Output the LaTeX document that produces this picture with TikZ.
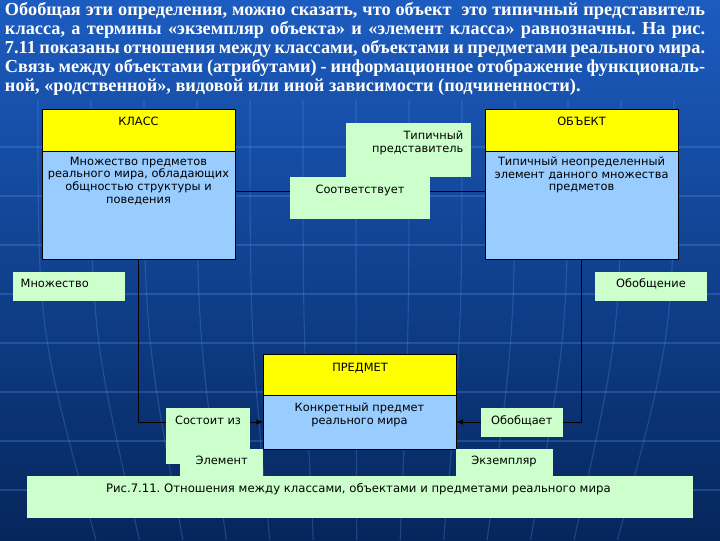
\documentclass[tikz,border=0pt]{standalone}
\usepackage{fontspec}
\setmainfont{Liberation Serif}
\newfontfamily\dgfont{DejaVu Sans}
\usetikzlibrary{arrows.meta,calc}
\frenchspacing
\definecolor{bgA}{RGB}{28,92,192}
\definecolor{bgB}{RGB}{10,72,158}
\definecolor{bgC}{RGB}{5,38,92}
\definecolor{lyel}{RGB}{255,255,0}
\definecolor{lblu}{RGB}{153,204,255}
\definecolor{lgrn}{RGB}{204,255,204}
\definecolor{faint}{RGB}{90,150,235}
\newcommand\bx[6]{\node[#6,minimum width={(#4-#2)*0.025cm},minimum height={(#5-#3)*0.025cm}] (#1) at ({(#2+#4)/2},{(#3+#5)/2}) {};}
\begin{document}
\begin{tikzpicture}[x=0.025cm,y=-0.025cm,
  ttl/.style={anchor=base west,inner sep=0,outer sep=0,text=white,font=\bfseries\fontsize{13}{15}\selectfont},
  shp/.style={inner sep=0,outer sep=0,draw=none},
  yel/.style={shp,fill=lyel},
  blu/.style={shp,fill=lblu},
  grn/.style={shp,fill=lgrn},
  frm/.style={shp,draw=black,line width=0.7pt,fill=none},
  lbl/.style={font=\dgfont\fontsize{8.1}{9}\selectfont,inner sep=0,outer sep=0,align=center,text=black,anchor=north},
  conn/.style={line width=0.7pt,black},
  arr/.style={conn,-{Latex[length=5pt,width=4pt]}},
  deco/.style={faint,line width=0.8pt,opacity=0.28}]
\useasboundingbox (0,0) rectangle (720,540);
% background
\fill[top color=bgA,middle color=bgB,bottom color=bgC] (0,0) rectangle (720,540);
\foreach \yy in {147,196,245,294,343,392,441,490}
  \draw[deco] (0,\yy) -- (720,\yy);
\foreach \xx in {38,91,144,197,250,303,356,409,462,515,568,621,674}
  \draw[deco] (\xx,100) .. controls (\xx,330) .. ({\xx+(360-\xx)*0.18},540);
% title
\node[ttl] (t1) at (5,15.5) {\makebox[17.5cm][s]{Обобщая эти определения, можно сказать, что объект \ это типичный представитель}};
\node[ttl] (t2) at (5,34.5) {\makebox[17.5cm][s]{класса, а термины «экземпляр объекта» и «элемент класса» равнозначны. На рис.}};
\node[ttl] (t3) at (5,53.5) {\makebox[17.5cm][s]{7.11 показаны отношения между классами, объектами и предметами реального мира.}};
\node[ttl] (t4) at (5,72.5) {\makebox[17.5cm][s]{Связь между объектами (атрибутами) - информационное отображение функциональ-}};
\node[ttl] (t5) at (5,91.5) {ной, «родственной», видовой или иной зависимости (подчиненности).};
% main boxes (geometry)
\bx{klassH}{42}{109}{235}{151}{yel}
\bx{klassB}{42}{151}{235}{259}{blu}
\bx{objH}{485}{109}{678}{151}{yel}
\bx{objB}{485}{151}{678}{259}{blu}
\bx{predH}{263.3}{354.3}{456}{395}{yel}
\bx{predB}{263.3}{395}{456}{449}{blu}
\bx{klass}{42}{109}{235}{259}{frm}
\bx{obj}{485}{109}{678}{259}{frm}
\bx{pred}{263.3}{354.3}{456}{449}{frm}
\draw[conn] (klassH.south west) -- (klassH.south east);
\draw[conn] (objH.south west) -- (objH.south east);
\draw[conn] (predH.south west) -- (predH.south east);
% connector anchor points
\coordinate (pinL) at (263.3,422);
\coordinate (pinR) at (456,422);
\coordinate (midL) at (235,191);
\coordinate (midR) at (485,191);
% connectors
\draw[conn] (midL) -- (midR);
\draw[arr] (klass.south) |- (pinL);
\draw[arr] (obj.south) |- (pinR);
% green label boxes
\bx{typ}{346}{122.7}{470.7}{177}{grn}
\bx{sootv}{290}{177}{430}{218.7}{grn}
\bx{mnozh}{13.3}{272.3}{125}{300.7}{grn}
\bx{obobshch}{595}{272.3}{706.7}{300.7}{grn}
\bx{sost}{166}{408.3}{250}{464}{grn}
\bx{elem}{180}{449}{263.3}{477}{grn}
\bx{obobsh}{481}{408.3}{562.7}{436.7}{grn}
\bx{ekz}{456}{449}{553.3}{477}{grn}
\bx{capbox}{26.7}{476}{692.7}{517.7}{grn}
% texts
\node[lbl] (klassT) at (138.5,117) {КЛАСС};
\node[lbl] (klassD) at (138.5,157) {Множество предметов\\реального мира, обладающих\\общностью структуры и\\поведения};
\node[lbl] (objT) at (581.5,117) {ОБЪЕКТ};
\node[lbl] (objD) at (581.5,157) {Типичный неопределенный\\элемент данного множества\\предметов};
\node[lbl,anchor=north east,align=right] (typT) at (463.3,130.7) {Типичный\\представитель};
\node[lbl] (sootvT) at (360,185) {Соответствует};
\node[lbl,anchor=north west] (mnozhT) at (20.7,279) {Множество};
\node[lbl] (obobshchT) at (651,279) {Обобщение};
\node[lbl] (predT) at (360,362.7) {ПРЕДМЕТ};
\node[lbl] (predD) at (359.5,402.7) {Конкретный предмет\\реального мира};
\node[lbl] (sostT) at (208,416) {Состоит из};
\node[lbl] (obobshT) at (521.7,416) {Обобщает};
\node[lbl] (elemT) at (221.7,456) {Элемент};
\node[lbl] (ekzT) at (504,456) {Экземпляр};
\node[lbl,anchor=north west,font=\dgfont\fontsize{8.3}{9}\selectfont] (capT) at (106,483.3) {Рис.7.11. Отношения между классами, объектами и предметами реального мира};
\end{tikzpicture}
\end{document}
